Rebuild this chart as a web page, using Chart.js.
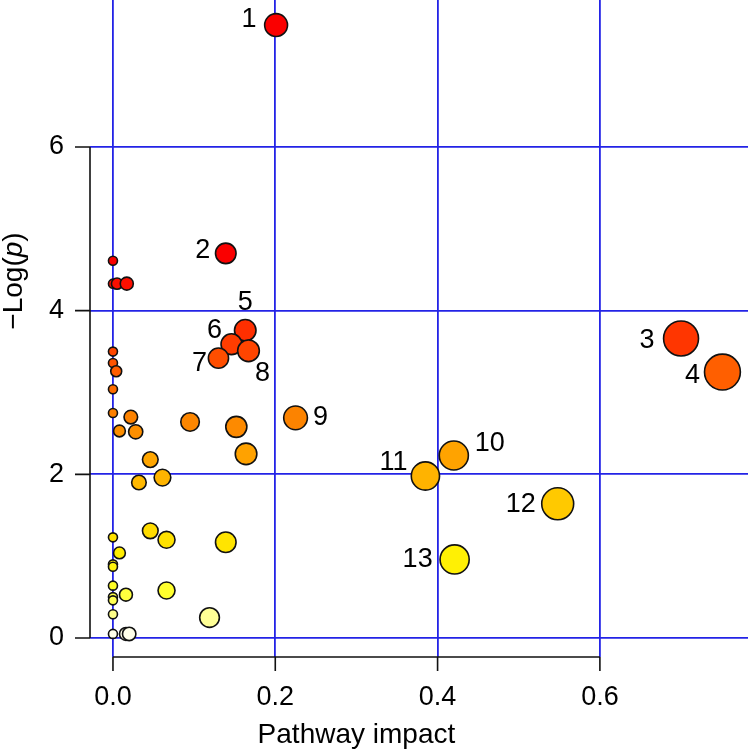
<!DOCTYPE html>
<html>
<head>
<meta charset="utf-8">
<script src="https://cdn.jsdelivr.net/npm/chart.js@4.4.1/dist/chart.umd.min.js"></script>
<style>
  body { margin: 0; background: #fff; }
  canvas { display: block; }
</style>
</head>
<body>
<canvas id="pathwayPlot" width="748" height="753"></canvas>
<script>
// labelled pathways (impact, -log p)
let pathwayLabels = ['1', '2', '3', '4', '5', '6', '7', '8', '9', '10', '11', '12', '13'];
let labelledImpact = [0.201, 0.139, 0.700, 0.751, 0.163, 0.146, 0.130, 0.167, 0.225, 0.420, 0.385, 0.548, 0.421];
let labelledLogP = [7.49, 4.70, 3.66, 3.25, 3.76, 3.59, 3.42, 3.51, 2.69, 2.23, 1.98, 1.64, 0.96];

// the other pathways, no label
let otherImpact = [0, 0, 0.005, 0.017, 0, 0, 0.004, 0, 0, 0.022, 0.008, 0.028, 0.095, 0.152, 0.164,
  0.046, 0.061, 0.032, 0.046, 0.066, 0.139, 0, 0.008, 0, 0, 0, 0.016, 0, 0, 0, 0.066, 0.119, 0, 0.016, 0.020];
let otherLogP = [4.61, 4.33, 4.33, 4.33, 3.50, 3.36, 3.26, 3.04, 2.75, 2.70, 2.53, 2.52, 2.64, 2.58, 2.25,
  2.18, 1.96, 1.90, 1.31, 1.20, 1.17, 1.23, 1.04, 0.90, 0.87, 0.64, 0.53, 0.50, 0.46, 0.29, 0.58, 0.25, 0.05, 0.05, 0.05];

let xTicks = [0, 0.2, 0.4, 0.6];
let yTicks = [0, 2, 4, 6];

// where each number sits next to its circle (px)
let labelOffsets = [[-27, -5], [-23, -3], [-34, 2], [-30, 4], [0, -28], [-17, -14], [-19, 5], [14, 23],
  [25, 0], [36, -12], [-32, -13], [-37, 1], [-37, 0]];

// heat colours by -log p
let heatStops = [
  [0, [255, 255, 255]], [0.25, [255, 255, 150]], [0.6, [255, 255, 40]], [1.0, [255, 238, 0]],
  [1.65, [255, 200, 0]], [2.2, [255, 165, 0]], [2.7, [252, 130, 0]], [3.25, [255, 95, 0]],
  [3.7, [255, 50, 0]], [4.6, [250, 0, 0]]
];

function heatColor(v) {
  if (v >= heatStops[heatStops.length - 1][0]) {
    let c = heatStops[heatStops.length - 1][1];
    return 'rgb(' + c.join(',') + ')';
  }
  for (let i = 1; i < heatStops.length; i++) {
    if (v <= heatStops[i][0]) {
      let a = heatStops[i - 1], b = heatStops[i];
      let t = (v - a[0]) / (b[0] - a[0]);
      let c = a[1].map(function (k, j) { return Math.round(k + (b[1][j] - k) * t); });
      return 'rgb(' + c.join(',') + ')';
    }
  }
  return 'rgb(255,255,255)';
}

function toPoints(xs, ys) {
  return xs.map(function (x, i) { return { x: x, y: ys[i] }; });
}

let fontFamily = '"Liberation Sans", Arial, Helvetica, sans-serif';
let gridBlue = 'rgb(35,35,230)';
let axisBlack = '#111';

let pointStyle = {
  pointBackgroundColor: function (ctx) { return heatColor(ctx.raw.y); },
  pointRadius: function (ctx) { return 4.5 + 15.5 * Math.sqrt(ctx.raw.x); },
  pointBorderColor: '#111',
  pointBorderWidth: 1.6,
  showLine: false
};

// R-style axes, titles and point numbers
let annotatePlugin = {
  id: 'annotate',
  afterDraw: function (chart) {
    let ctx = chart.ctx;
    let xs = chart.scales.x, ys = chart.scales.y;
    let area = chart.chartArea;
    ctx.save();
    ctx.strokeStyle = axisBlack;
    ctx.lineWidth = 1.6;
    // y axis line + ticks
    ctx.beginPath();
    ctx.moveTo(area.left, ys.getPixelForValue(yTicks[0]));
    ctx.lineTo(area.left, ys.getPixelForValue(yTicks[yTicks.length - 1]));
    yTicks.forEach(function (v) {
      ctx.moveTo(area.left - 15, ys.getPixelForValue(v));
      ctx.lineTo(area.left, ys.getPixelForValue(v));
    });
    // x axis line + ticks
    ctx.moveTo(xs.getPixelForValue(xTicks[0]), area.bottom);
    ctx.lineTo(xs.getPixelForValue(xTicks[xTicks.length - 1]), area.bottom);
    xTicks.forEach(function (v) {
      ctx.moveTo(xs.getPixelForValue(v), area.bottom);
      ctx.lineTo(xs.getPixelForValue(v), area.bottom + 14);
    });
    ctx.stroke();

    ctx.fillStyle = '#000';
    // x title
    ctx.font = '28px ' + fontFamily;
    ctx.textAlign = 'center';
    ctx.textBaseline = 'alphabetic';
    ctx.fillText('Pathway impact', xs.getPixelForValue(0.3), 743);

    // y title with italic p
    let parts = [['\u2212Log(', ''], ['p', 'italic '], [')', '']];
    let total = 0;
    parts.forEach(function (p) {
      ctx.font = p[1] + '28px ' + fontFamily;
      total += ctx.measureText(p[0]).width;
    });
    ctx.translate(22, 281);
    ctx.rotate(-Math.PI / 2);
    ctx.textAlign = 'left';
    let pos = -total / 2;
    parts.forEach(function (p) {
      ctx.font = p[1] + '28px ' + fontFamily;
      ctx.fillText(p[0], pos, 0);
      pos += ctx.measureText(p[0]).width;
    });
    ctx.restore();
  },
  afterDatasetsDraw: function (chart) {
    let ctx = chart.ctx;
    let xs = chart.scales.x, ys = chart.scales.y;
    ctx.save();
    ctx.fillStyle = '#000';
    ctx.font = '27px ' + fontFamily;
    ctx.textAlign = 'center';
    ctx.textBaseline = 'middle';
    pathwayLabels.forEach(function (lab, i) {
      let px = xs.getPixelForValue(labelledImpact[i]) + labelOffsets[i][0];
      let py = ys.getPixelForValue(labelledLogP[i]) + labelOffsets[i][1];
      ctx.fillText(lab, px, py);
    });
    ctx.restore();
  }
};

new Chart(document.getElementById('pathwayPlot').getContext('2d'), {
  type: 'scatter',
  data: {
    datasets: [
      Object.assign({ label: 'other', data: toPoints(otherImpact, otherLogP) }, pointStyle),
      Object.assign({ label: 'labelled', data: toPoints(labelledImpact, labelledLogP) }, pointStyle)
    ]
  },
  options: {
    responsive: false,
    animation: false,
    events: [],
    layout: { padding: 0, autoPadding: false },
    plugins: { legend: { display: false }, tooltip: { enabled: false } },
    scales: {
      x: {
        type: 'linear',
        min: -0.0283,
        max: 0.7825,
        afterBuildTicks: function (scale) {
          scale.ticks = xTicks.map(function (v) { return { value: v }; });
        },
        afterFit: function (scale) {
          scale.height = 96;
          scale.paddingLeft = 0;
          scale.paddingRight = 0;
        },
        grid: { color: gridBlue, lineWidth: 1.8, drawTicks: false },
        border: { display: false },
        ticks: {
          padding: 24,
          color: '#000',
          font: { family: fontFamily, size: 27 },
          maxRotation: 0,
          callback: function (v) { return v.toFixed(1); }
        }
      },
      y: {
        type: 'linear',
        min: -0.232,
        max: 7.796,
        afterBuildTicks: function (scale) {
          scale.ticks = yTicks.map(function (v) { return { value: v }; });
        },
        afterFit: function (scale) {
          scale.width = 90;
          scale.paddingTop = 0;
          scale.paddingBottom = 0;
        },
        grid: { color: gridBlue, lineWidth: 1.8, drawTicks: false },
        border: { display: false },
        ticks: {
          padding: 26,
          color: '#000',
          font: { family: fontFamily, size: 27 },
          callback: function (v) { return String(v); }
        }
      }
    }
  },
  plugins: [annotatePlugin]
});
</script>
</body>
</html>
